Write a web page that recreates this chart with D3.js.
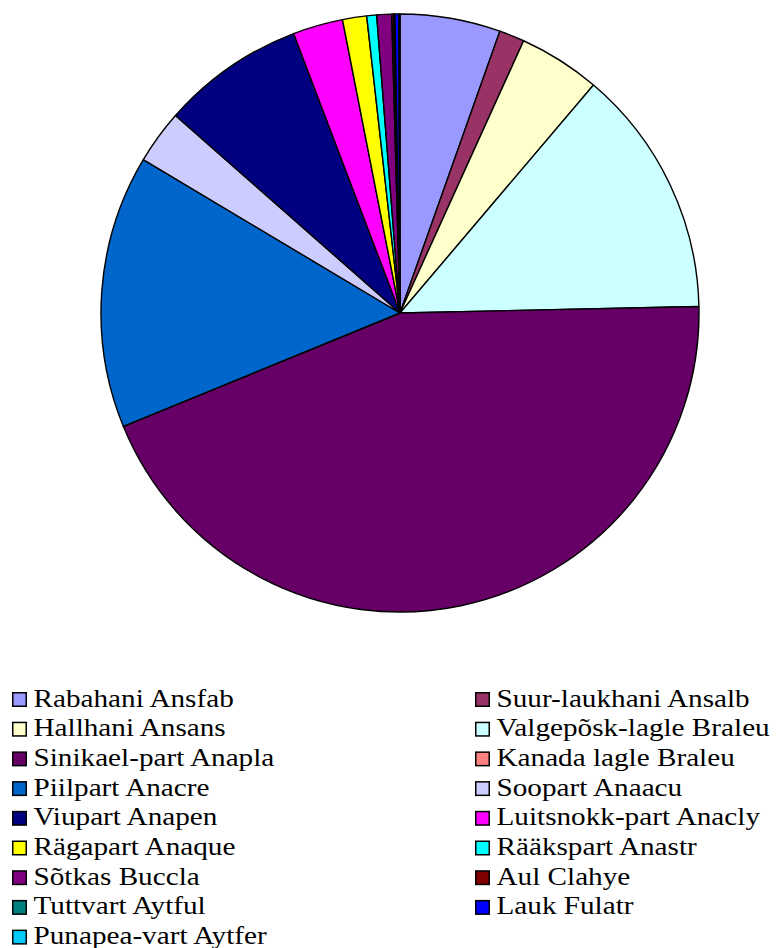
<!DOCTYPE html>
<html><head><meta charset="utf-8">
<script src="https://cdn.jsdelivr.net/npm/d3@7"></script>
<style>html,body{margin:0;padding:0;background:#fff;}svg{display:block;}</style>
</head><body>
<svg id="c" width="776" height="948"></svg>
<script>
const categories = ["Rabahani Ansfab","Suur-laukhani Ansalb","Hallhani Ansans","Valgepõsk-lagle Braleu","Sinikael-part Anapla","Kanada lagle Braleu","Piilpart Anacre","Soopart Anaacu","Viupart Anapen","Luitsnokk-part Anacly","Rägapart Anaque","Rääkspart Anastr","Sõtkas Buccla","Aul Clahye","Tuttvart Aytful","Lauk Fulatr","Punapea-vart Aytfer"];
const values = [5.4, 1.36, 4.4, 13.4, 44.0, 0, 14.7, 2.9, 7.7, 2.7, 1.3, 0.53, 0.8, 0.1, 0.07, 0.21, 0.06];
const colors = ["#9999FF","#993366","#FFFFCC","#CCFFFF","#660066","#FF8080","#0066CC","#CCCCFF","#000080","#FF00FF","#FFFF00","#00FFFF","#800080","#800000","#008080","#0000FF","#00CCFF"];

const svg = d3.select("#c");
const cx = 400, cy = 313, r = 299;
const pie = d3.pie().sort(null).value(d => d.v);
const arc = d3.arc().innerRadius(0).outerRadius(r);
const data = categories.map((c,i)=>({c, v: values[i], col: colors[i]}));
const g = svg.append("g").attr("transform", `translate(${cx},${cy})`);
g.selectAll("path").data(pie(data)).join("path")
  .attr("d", arc).attr("fill", d => d.data.col)
  .attr("stroke", "#000").attr("stroke-width", 1.4).attr("stroke-linejoin","round");

// legend
const rowY = d3.scaleLinear().domain([0,1]).range([706.5, 736.2]);
const colX = [12, 475];
const lg = svg.append("g");
data.forEach((d,i) => {
  const col = i % 2, row = Math.floor(i/2);
  const x = colX[col], y = rowY(row);
  lg.append("rect").attr("x", x+0.75).attr("y", y-13.75).attr("width", 13.5).attr("height", 13.5)
    .attr("fill", d.col).attr("stroke", "#000").attr("stroke-width", 1.5);
  lg.append("text").attr("transform", `translate(${x+21.5},${y}) scale(1.145,1)`)
    .attr("font-family", "'Liberation Serif','Times New Roman',serif")
    .attr("font-size", 25.5).attr("fill", "#000").text(d.c);
});
</script>
</body></html>
